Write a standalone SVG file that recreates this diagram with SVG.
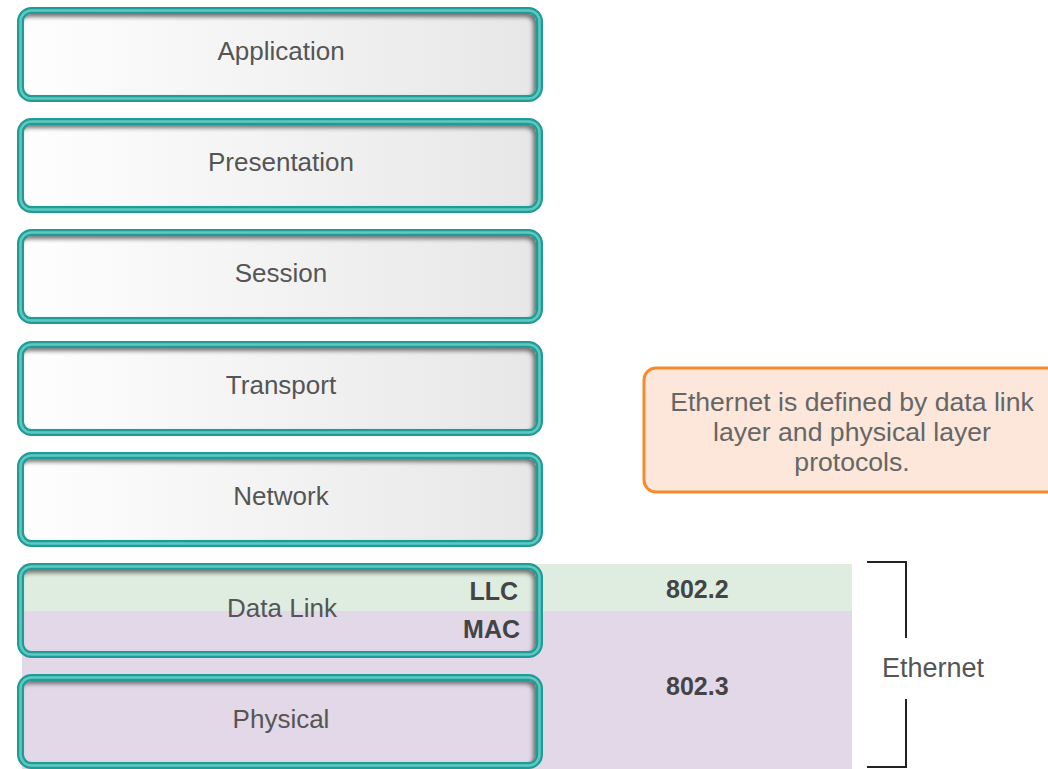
<svg xmlns="http://www.w3.org/2000/svg" width="1048" height="769" viewBox="0 0 1048 769">
<defs>
<linearGradient id="fillg" x1="0" y1="0" x2="1" y2="0">
<stop offset="0" stop-color="#fefefe"/>
<stop offset="1" stop-color="#e7e7e7"/>
</linearGradient>
<filter id="inset" x="-5%" y="-20%" width="110%" height="140%">
<feComponentTransfer in="SourceAlpha" result="inv"><feFuncA type="table" tableValues="1 0"/></feComponentTransfer>
<feOffset in="inv" dx="-3" dy="3" result="off"/>
<feGaussianBlur in="off" stdDeviation="2" result="blur"/>
<feFlood flood-color="#555555" flood-opacity="0.8" result="col"/>
<feComposite in="col" in2="blur" operator="in" result="sh"/>
<feComposite in="sh" in2="SourceAlpha" operator="in"/>
</filter>
<style>
.outer{fill:none;stroke:#1f9c95;stroke-width:7}
.mid{fill:none;stroke:#5fc9c1;stroke-width:2.5}
.inner{fill:url(#fillg)}
.shadow{fill:#000;filter:url(#inset)}
.lbl{font-family:"Liberation Sans",Arial,sans-serif;font-size:26px;fill:#555;text-anchor:middle}
.bold{font-family:"Liberation Sans",Arial,sans-serif;font-size:25px;font-weight:bold;fill:#444}
.call{font-family:"Liberation Sans",Arial,sans-serif;font-size:26.6px;fill:#666;text-anchor:middle}
</style>
</defs>
<rect width="1048" height="769" fill="#ffffff"/>
<g id="bands">
<rect x="22" y="564" width="830" height="47" fill="#deede0"/>
<rect x="22" y="611" width="830" height="158" fill="#e3d8e8"/>
</g>
<g id="application">
<rect class="inner" x="24" y="14" width="512" height="81" rx="7"/>
<rect class="shadow" x="24" y="14" width="512" height="81" rx="7"/>
<rect class="outer" x="20.5" y="10.5" width="519" height="88" rx="11"/>
<rect class="mid" x="20.5" y="10.5" width="519" height="88" rx="11"/>
<text class="lbl" x="281" y="60">Application</text>
</g>
<g id="presentation">
<rect class="inner" x="24" y="125" width="512" height="81" rx="7"/>
<rect class="shadow" x="24" y="125" width="512" height="81" rx="7"/>
<rect class="outer" x="20.5" y="121.5" width="519" height="88" rx="11"/>
<rect class="mid" x="20.5" y="121.5" width="519" height="88" rx="11"/>
<text class="lbl" x="281" y="171">Presentation</text>
</g>
<g id="session">
<rect class="inner" x="24" y="236" width="512" height="81" rx="7"/>
<rect class="shadow" x="24" y="236" width="512" height="81" rx="7"/>
<rect class="outer" x="20.5" y="232.5" width="519" height="88" rx="11"/>
<rect class="mid" x="20.5" y="232.5" width="519" height="88" rx="11"/>
<text class="lbl" x="281" y="282">Session</text>
</g>
<g id="transport">
<rect class="inner" x="24" y="348" width="512" height="81" rx="7"/>
<rect class="shadow" x="24" y="348" width="512" height="81" rx="7"/>
<rect class="outer" x="20.5" y="344.5" width="519" height="88" rx="11"/>
<rect class="mid" x="20.5" y="344.5" width="519" height="88" rx="11"/>
<text class="lbl" x="281" y="394">Transport</text>
</g>
<g id="network">
<rect class="inner" x="24" y="459" width="512" height="81" rx="7"/>
<rect class="shadow" x="24" y="459" width="512" height="81" rx="7"/>
<rect class="outer" x="20.5" y="455.5" width="519" height="88" rx="11"/>
<rect class="mid" x="20.5" y="455.5" width="519" height="88" rx="11"/>
<text class="lbl" x="281" y="505">Network</text>
</g>
<g id="datalink">
<rect class="shadow" x="24" y="570" width="512" height="81" rx="7"/>
<rect class="outer" x="20.5" y="566.5" width="519" height="88" rx="11"/>
<rect class="mid" x="20.5" y="566.5" width="519" height="88" rx="11"/>
<text class="lbl" x="282" y="617">Data Link</text>
<text class="bold" x="518" y="600" text-anchor="end">LLC</text>
<text class="bold" x="520" y="638" text-anchor="end">MAC</text>
</g>
<g id="physical">
<rect class="shadow" x="24" y="681" width="512" height="81" rx="7"/>
<rect class="outer" x="20.5" y="677.5" width="519" height="88" rx="11"/>
<rect class="mid" x="20.5" y="677.5" width="519" height="88" rx="11"/>
<text class="lbl" x="281" y="728">Physical</text>
</g>
<g id="standards">
<text class="bold" x="666" y="598">802.2</text>
<text class="bold" x="666" y="695">802.3</text>
</g>
<g id="callout">
<rect x="644" y="368" width="430" height="124" rx="12" fill="#fce7da" stroke="#f58b2c" stroke-width="3"/>
<text class="call" x="852" y="411">Ethernet is defined by data link</text>
<text class="call" x="852" y="441">layer and physical layer</text>
<text class="call" x="852" y="471">protocols.</text>
</g>
<g id="connectors">
<path d="M867,562 H906 V638 M906,699 V767 H867" fill="none" stroke="#222" stroke-width="2"/>
</g>
<g id="ethernet">
<text x="882" y="677" font-family="'Liberation Sans',Arial,sans-serif" font-size="27" fill="#555">Ethernet</text>
</g>
</svg>
